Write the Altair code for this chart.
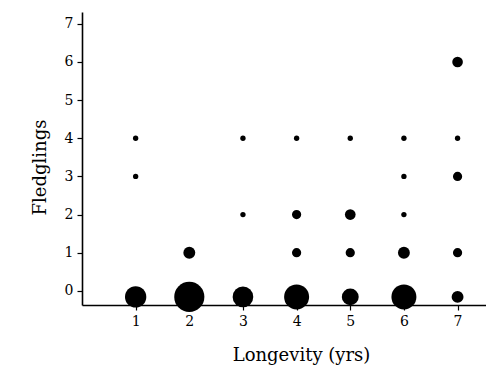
import altair as alt
import pandas as pd

longevity = [1, 1, 1, 2, 2, 3, 3, 3, 4, 4, 4, 4, 5, 5, 5, 5, 6, 6, 6, 6, 6, 7, 7, 7, 7, 7]
fledglings = [0, 3, 4, 0, 1, 0, 2, 4, 0, 1, 2, 4, 0, 1, 2, 4, 0, 1, 2, 3, 4, 0, 1, 3, 4, 6]
counts = [16, 1, 1, 32, 5, 15, 1, 1, 22, 3, 3, 1, 10, 3, 4, 1, 22, 5, 1, 1, 1, 5, 3, 3, 1, 4]

x_ticks = [1, 2, 3, 4, 5, 6, 7]
y_ticks = [0, 1, 2, 3, 4, 5, 6, 7]

df = pd.DataFrame({"Longevity": longevity, "Fledglings": fledglings, "n": counts})

font = "DejaVu Serif"

x_enc = alt.X(
    "Longevity:Q",
    scale=alt.Scale(domain=[0, 7.53], nice=False, zero=False),
    axis=alt.Axis(
        values=x_ticks, title="Longevity (yrs)", grid=False,
        labelFont=font, labelFontSize=14, labelColor="black", labelPadding=4,
        titleFont=font, titleFontSize=18, titleFontWeight="normal", titleColor="black",
        titleX=219, titleY=50, titleBaseline="middle", titleAnchor="start", titleAlign="center",
        domainColor="black", domainWidth=1.6, tickColor="black", tickSize=5, tickWidth=1.2,
    ),
)
y_enc = alt.Y(
    "Fledglings:Q",
    scale=alt.Scale(domain=[-0.37, 7.31], nice=False, zero=False),
    axis=alt.Axis(
        values=y_ticks, title="Fledglings", grid=False,
        labelFont=font, labelFontSize=14, labelColor="black", labelPadding=4,
        titleFont=font, titleFontSize=18, titleFontWeight="normal", titleColor="black",
        titleX=-42, titleY=155, titleAngle=-90, titleBaseline="middle", titleAlign="center",
        domainColor="black", domainWidth=1.6, tickColor="black", tickSize=5, tickWidth=1.2,
    ),
)
size_enc = alt.Size("n:Q", scale=alt.Scale(domain=[0, 32], range=[0, 908], zero=True), legend=None)

base = alt.Chart(df)
row0 = base.transform_filter("datum.Fledglings == 0").mark_circle(
    color="black", opacity=1, yOffset=6
).encode(x=x_enc, y=y_enc, size=size_enc)
rest = base.transform_filter("datum.Fledglings > 0").mark_circle(
    color="black", opacity=1
).encode(x=x_enc, y=y_enc, size=size_enc)

chart = (
    alt.layer(row0, rest)
    .properties(
        width=404, height=293, autosize="none",
        padding={"left": 74, "top": 4, "right": 0, "bottom": 60},
        background="white",
    )
    .configure_view(stroke=None)
)

chart.save("out.html", embed_options={"renderer": "svg", "actions": False})
